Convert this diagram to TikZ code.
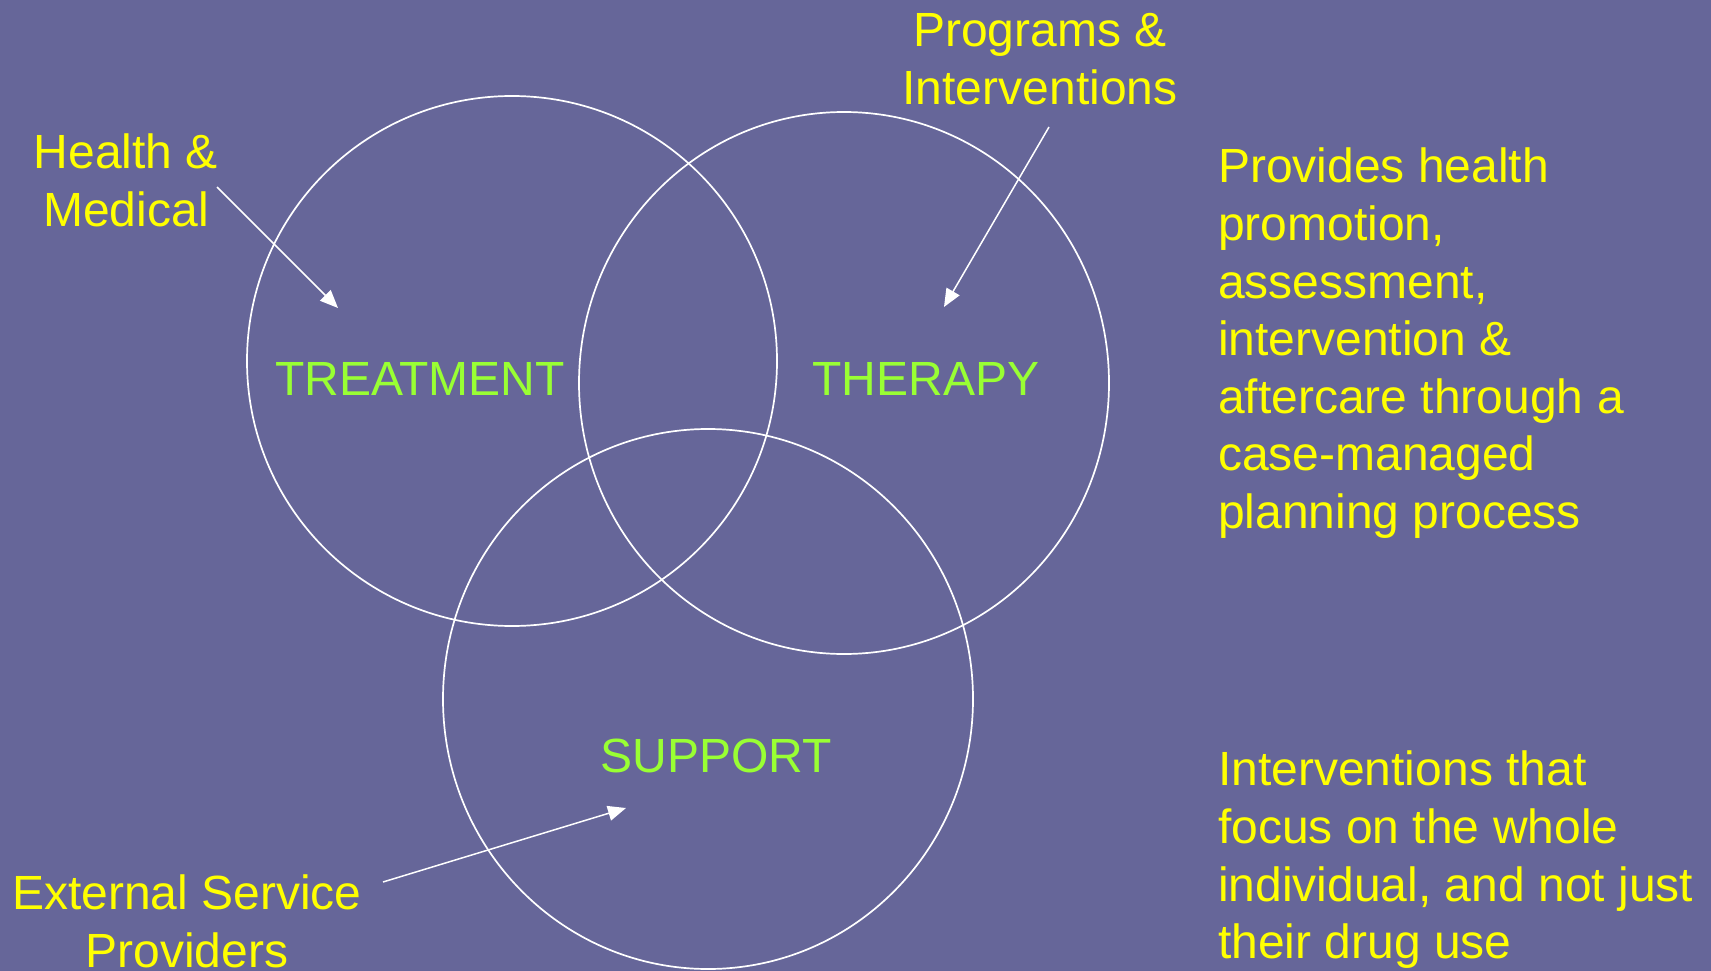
\documentclass[tikz,border=0pt]{standalone}
\usepackage{fontspec}
\setmainfont{Liberation Sans}
\usetikzlibrary{shapes.geometric,arrows.meta}
\definecolor{bgc}{RGB}{102,102,153}
\definecolor{lblyellow}{RGB}{255,255,0}
\definecolor{lblgreen}{RGB}{153,255,51}
\tikzset{
  ring/.style={ellipse, draw=white, line width=1.7pt, inner sep=0pt},
  ylbl/.style={text=lblyellow, inner sep=0pt, font=\fontsize{48}{57.6}\selectfont},
  glbl/.style={text=lblgreen, inner sep=0pt, font=\fontsize{48}{57.6}\selectfont},
  pointer/.style={draw=white, line width=1.5pt, -{Triangle[length=18pt,width=15pt]}}
}
\begin{document}
\begin{tikzpicture}[x=1pt,y=-1pt]
\useasboundingbox (0,0) rectangle (1711,971);
\fill[bgc] (0,0) rectangle (1711,971);

% circles
\node[ring, minimum width=530pt, minimum height=530pt] (ctreat) at (512,361) {};
\node[ring, minimum width=530pt, minimum height=542pt] (ctherapy) at (844,383) {};
\node[ring, minimum width=530pt, minimum height=540pt] (csupport) at (708,699) {};

% circle labels
\node[glbl, anchor=base] (treat) at (420,395) {TREATMENT};
\node[glbl, anchor=base] (therapy) at (926,395) {THERAPY};
\node[glbl, anchor=base] (support) at (716,772) {SUPPORT};

% outer labels
\node[ylbl, anchor=north, align=center] (health) at (126,134) {Health \&\\Medical};
\node[ylbl, anchor=north, align=center] (programs) at (1040,13) {Programs \&\\Interventions};
\node[ylbl, anchor=north, align=center] (external) at (187,875) {External Service\\Providers};

% right-hand text
\node[ylbl, anchor=north west, align=left] (desc1) at (1218,148) {Provides health\\promotion,\\assessment,\\intervention \&\\aftercare through a\\case-managed\\planning process};
\node[ylbl, anchor=north west, align=left] (desc2) at (1218,751) {Interventions that\\focus on the whole\\individual, and not just\\their drug use};

% arrows
\coordinate (hm-s) at (217,187);
\coordinate (hm-t) at (338,308);
\coordinate (pi-s) at (1049,127);
\coordinate (pi-t) at (944,307);
\coordinate (es-s) at (383,882);
\coordinate (es-t) at (626,808);
\draw[pointer] (hm-s) -- (hm-t);
\draw[pointer] (pi-s) -- (pi-t);
\draw[pointer] (es-s) -- (es-t);
\end{tikzpicture}
\end{document}
